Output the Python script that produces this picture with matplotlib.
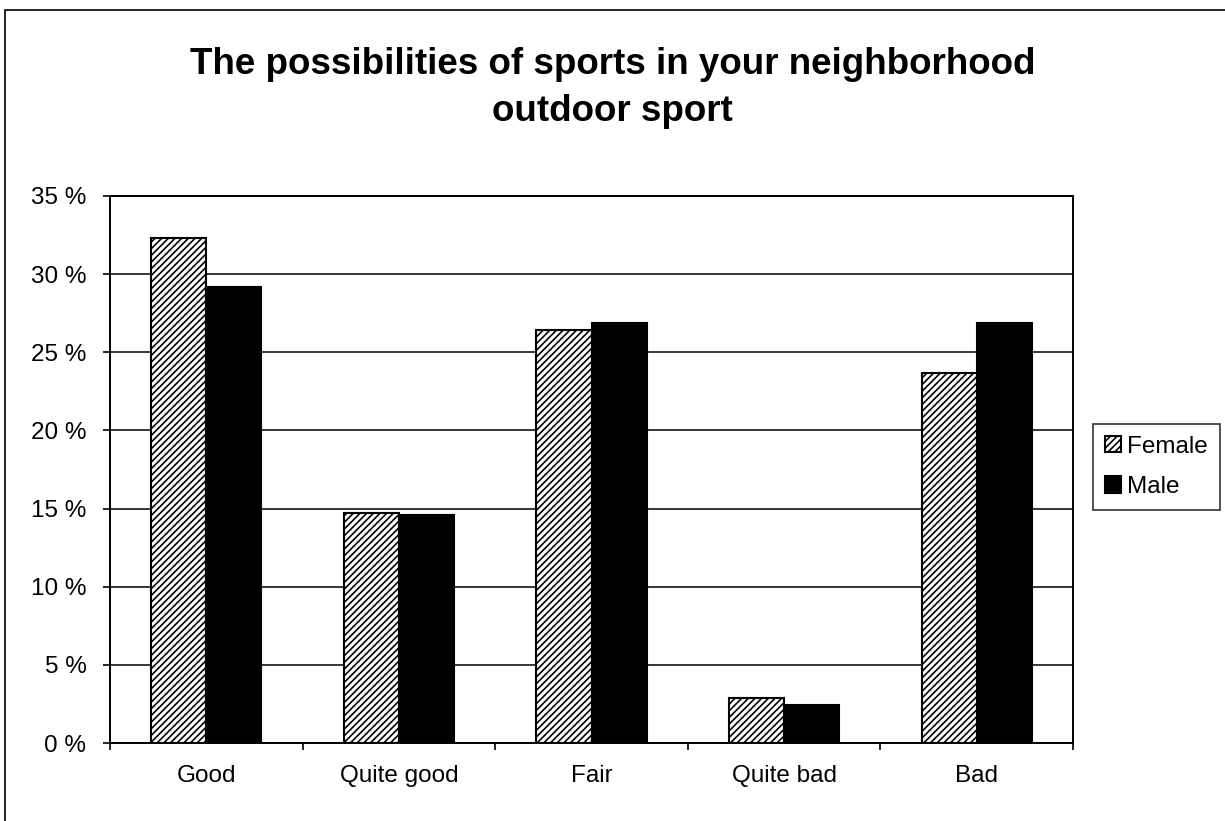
import matplotlib
matplotlib.use('Agg')
import matplotlib.pyplot as plt
import numpy as np
from matplotlib.patches import Rectangle
from matplotlib.ticker import FuncFormatter

# Daten (Prozent)
categories = ['Good', 'Quite good', 'Fair', 'Quite bad', 'Bad']
female = [32.3, 14.7, 26.4, 2.9, 23.7]
male = [29.2, 14.6, 26.9, 2.4, 26.9]
yticks = [0, 5, 10, 15, 20, 25, 30, 35]

plt.rcParams['font.family'] = ['Liberation Sans', 'DejaVu Sans']
plt.rcParams['hatch.linewidth'] = 1.2

fig = plt.figure(figsize=(12.25, 8.21), dpi=100)
fig.patch.set_facecolor('white')
ax = fig.add_axes([110/1225, 1-743/821, 963/1225, 547/821])

x = np.arange(len(categories))
w = 1/3.5  # Excel gap width 150 %
ax.bar(x - w/2, female, w, color='white', edgecolor='black', hatch='/////',
       lw=1.5, label='Female', zorder=3)
ax.bar(x + w/2, male, w, color='black', edgecolor='black',
       lw=1.5, label='Male', zorder=3)

ax.set_xlim(-0.5, len(categories)-0.5)
ax.set_ylim(0, 35)
ax.set_yticks(yticks)
ax.yaxis.set_major_formatter(FuncFormatter(lambda v, p: f'{v:.0f} %'))
ax.yaxis.grid(True, color='black', lw=1.1, zorder=0)
ax.tick_params(axis='y', direction='out', length=5, width=1.2, pad=12, labelsize=17.5)

ax.set_xticks(x)
ax.set_xticklabels(categories)
ax.tick_params(axis='x', which='major', length=0, pad=16, labelsize=17.5)
ax.set_xticks(np.arange(-0.5, len(categories)), minor=True)
ax.tick_params(axis='x', which='minor', direction='out', length=5, width=1.2)

for s in ax.spines.values():
    s.set_linewidth(1.4)
    s.set_color('black')

leg = ax.legend(loc='center left', bbox_to_anchor=(1093/1225, 1-467/821),
                bbox_transform=fig.transFigure, fontsize=17.5, frameon=True,
                fancybox=False, edgecolor='black', handlelength=0.65,
                handleheight=0.65, handletextpad=0.25, borderpad=0.5,
                labelspacing=0.75, borderaxespad=0)
leg.get_frame().set_linewidth(1.2)

fig.text(0.5, 1-47/821, 'The possibilities of sports in your neighborhood\noutdoor sport',
         ha='center', va='top', fontsize=26.5, fontweight='bold', linespacing=1.45)

# Rahmen der Grafik (oben und links sichtbar)
fig.patches.append(Rectangle((5/1225, -0.1), 1.2, 1.1 - 10/821,
                             transform=fig.transFigure, fill=False,
                             edgecolor='black', lw=1.2))

plt.savefig('out.png', dpi=100)
plt.close(fig)
